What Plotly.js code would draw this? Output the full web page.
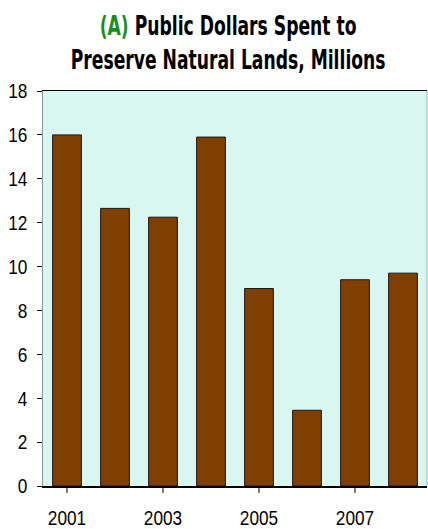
<!DOCTYPE html>
<html>
<head>
<meta charset="utf-8">
<script src="https://cdn.plot.ly/plotly-3.0.1.min.js"></script>
<style>html,body{margin:0;padding:0;background:#fff;}#chart{width:428px;height:529px;}</style>
</head>
<body>
<div id="chart"></div>
<script>
const years = [2001, 2002, 2003, 2004, 2005, 2006, 2007, 2008];
const dollarsMillions = [16.0, 12.65, 12.25, 15.9, 9.0, 3.45, 9.4, 9.7];
const xTickYears = [2001, 2003, 2005, 2007];
const yTicks = [0, 2, 4, 6, 8, 10, 12, 14, 16, 18];

const tickFont = {family: '"Liberation Sans", Arial, sans-serif', size: 21, color: '#000'};

const trace = {
  type: 'bar',
  x: years,
  y: dollarsMillions,
  width: 0.6,
  marker: {color: '#7f3f00', line: {color: '#1a1a1a', width: 1}},
  hoverinfo: 'skip'
};

const layout = {
  width: 428, height: 529,
  margin: {l: 43, r: 1, t: 91, b: 43},
  paper_bgcolor: '#ffffff',
  plot_bgcolor: '#d8f7f1',
  showlegend: false,
  title: {
    text: '<span style="color:#17901a">(A)</span> Public Dollars Spent to<br>Preserve Natural Lands, Millions',
    font: {family: '"DejaVu Sans Condensed", "DejaVu Sans", sans-serif', size: 26, color: '#000', weight: 'bold'},
    xref: 'container', yref: 'container',
    x: 0.533, xanchor: 'center',
    y: 0.933, yanchor: 'middle'
  },
  xaxis: {
    range: [2000.5, 2008.5],
    tickvals: xTickYears,
    ticktext: xTickYears.map(String),
    ticks: 'outside', ticklen: 5, tickcolor: '#808080', tickwidth: 1.5,
    ticklabelstandoff: 7,
    showline: true, linecolor: '#000', linewidth: 1.5, mirror: true,
    showgrid: false, zeroline: false,
    tickfont: tickFont, fixedrange: true
  },
  yaxis: {
    range: [0, 18],
    tickvals: yTicks,
    ticks: 'outside', ticklen: 5, tickcolor: '#000', tickwidth: 1,
    ticklabelstandoff: 5,
    showline: true, linecolor: '#8a9a98', linewidth: 1.5, mirror: false,
    showgrid: false, zeroline: false,
    tickfont: tickFont, fixedrange: true
  },
  shapes: [
    {type: 'line', xref: 'paper', yref: 'paper', x0: 1, x1: 1, y0: 0, y1: 1, line: {color: '#b8c8c6', width: 1.5}}
  ]
};

function squeeze(selector, s, anchor) {
  document.querySelectorAll(selector).forEach(function (g) {
    const bb = g.getBBox();
    if (!bb.width) return;
    const ax = anchor === 'right' ? bb.x + bb.width : bb.x + bb.width / 2;
    const prev = g.getAttribute('transform') || '';
    g.setAttribute('transform', prev + ' translate(' + ax + ',0) scale(' + s + ',1) translate(' + (-ax) + ',0)');
  });
}

Plotly.newPlot('chart', [trace], layout, {displayModeBar: false, staticPlot: true}).then(function () {
  squeeze('g.xtick', 0.82, 'center');
  squeeze('g.ytick', 0.82, 'right');
  const t = document.querySelector('g.g-gtitle');
  if (t) {
    const bb = t.getBBox();
    squeeze('g.g-gtitle', 315 / bb.width, 'center');
  }
});
</script>
</body>
</html>
